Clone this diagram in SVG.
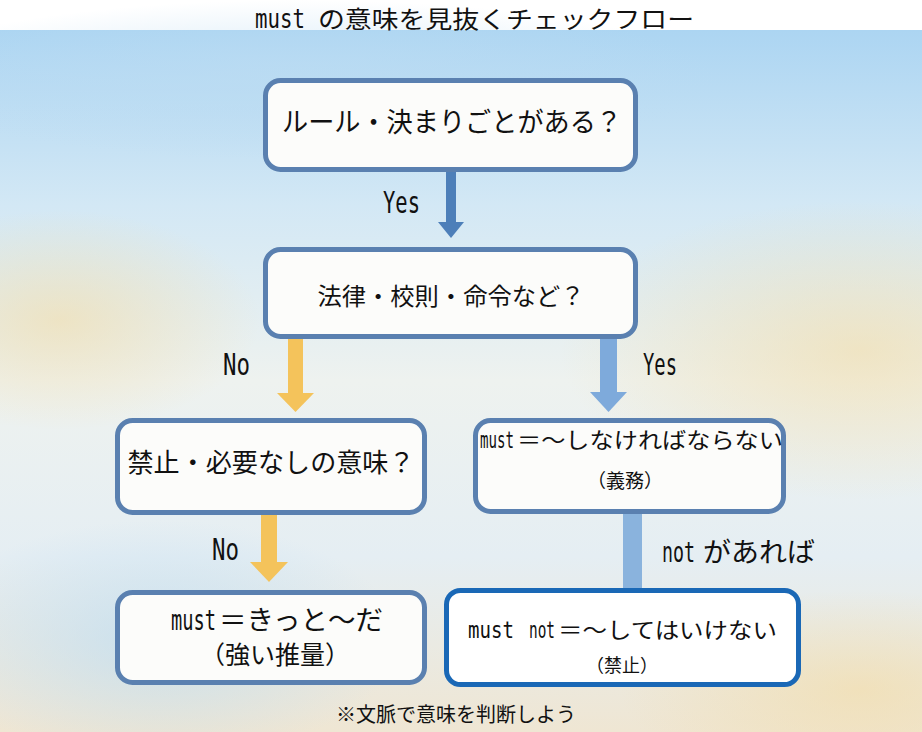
<svg xmlns="http://www.w3.org/2000/svg" width="922" height="732" viewBox="0 0 922 732">
<style>
.jp{font-family:"Noto Sans CJK JP","Noto Sans",sans-serif;fill:#111;}
.lat{font-family:"DejaVu Sans Mono","Liberation Mono",monospace;fill:#111;}
.box{fill:#fcfcfa;stroke:#5a80b0;stroke-width:5;}
.box6{fill:#ffffff;stroke:#1a68b6;stroke-width:5;}
</style>
<defs>
<linearGradient id="bg" x1="0" y1="0" x2="0" y2="1">
<stop offset="0" stop-color="#acd5f2"/>
<stop offset="0.25" stop-color="#d3e8f5"/>
<stop offset="0.5" stop-color="#eef2ef"/>
<stop offset="0.75" stop-color="#e5eef3"/>
<stop offset="1" stop-color="#efe6d3"/>
</linearGradient>
<radialGradient id="y1" cx="0.5" cy="0.5" r="0.5">
<stop offset="0" stop-color="#f3dca6" stop-opacity="0.6"/>
<stop offset="1" stop-color="#f3dca6" stop-opacity="0"/>
</radialGradient>
<radialGradient id="b1" cx="0.5" cy="0.5" r="0.5">
<stop offset="0" stop-color="#bcdcf2" stop-opacity="0.7"/>
<stop offset="1" stop-color="#bcdcf2" stop-opacity="0"/>
</radialGradient>
</defs>
<rect x="0" y="0" width="922" height="732" fill="#ffffff"/>
<rect x="0" y="30" width="922" height="702" fill="url(#bg)"/>
<ellipse cx="860" cy="350" rx="300" ry="150" fill="url(#y1)"/>
<ellipse cx="60" cy="320" rx="200" ry="110" fill="url(#y1)"/>
<ellipse cx="860" cy="690" rx="240" ry="100" fill="url(#y1)"/>
<ellipse cx="160" cy="640" rx="240" ry="120" fill="url(#b1)"/>
<ellipse cx="300" cy="80" rx="420" ry="80" fill="url(#b1)"/>

<g id="title">
<text class="lat" x="255" y="28" font-size="27" textLength="50" lengthAdjust="spacingAndGlyphs">must</text>
<text class="jp" x="318" y="28" font-size="24" textLength="376" lengthAdjust="spacingAndGlyphs">の意味を見抜くチェックフロー</text>
</g>

<g id="connectors">
<rect x="446" y="170" width="10" height="54" fill="#4d7fb9"/>
<polygon points="438,222 464,222 451,238" fill="#4d7fb9"/>
<text class="lat" x="383" y="213" font-size="30" textLength="37" lengthAdjust="spacingAndGlyphs">Yes</text>

<rect x="288" y="338" width="15" height="57" fill="#f4c35b"/>
<polygon points="277,393 314,393 295.5,412" fill="#f4c35b"/>
<text class="lat" x="223" y="375" font-size="30" textLength="27" lengthAdjust="spacingAndGlyphs">No</text>

<rect x="600" y="338" width="17" height="56" fill="#7eaadb"/>
<polygon points="590,392 627,392 608.5,412" fill="#7eaadb"/>
<text class="lat" x="643" y="375" font-size="30" textLength="34" lengthAdjust="spacingAndGlyphs">Yes</text>

<rect x="261" y="514" width="16" height="50" fill="#f4c35b"/>
<polygon points="250,562 288,562 269,582" fill="#f4c35b"/>
<text class="lat" x="212" y="560" font-size="30" textLength="27" lengthAdjust="spacingAndGlyphs">No</text>

<rect x="623" y="513" width="19" height="77" fill="#8ab3dd"/>
<text class="lat" x="662" y="562" font-size="29" textLength="33" lengthAdjust="spacingAndGlyphs">not</text>
<text class="jp" x="703" y="562" font-size="27" textLength="112" lengthAdjust="spacingAndGlyphs">があれば</text>
</g>

<g id="n1">
<rect class="box" x="265.5" y="80.5" width="370" height="89" rx="15"/>
<text class="jp" x="452" y="132" font-size="27" text-anchor="middle" textLength="340" lengthAdjust="spacingAndGlyphs">ルール・決まりごとがある？</text>
</g>
<g id="n2">
<rect class="box" x="265.5" y="249.5" width="370" height="87" rx="15"/>
<text class="jp" x="451" y="305" font-size="24" text-anchor="middle" textLength="267" lengthAdjust="spacingAndGlyphs">法律・校則・命令など？</text>
</g>
<g id="n3">
<rect class="box" x="117.5" y="420.5" width="307" height="92" rx="15"/>
<text class="jp" x="271" y="472" font-size="26" text-anchor="middle" textLength="287" lengthAdjust="spacingAndGlyphs">禁止・必要なしの意味？</text>
</g>
<g id="n4">
<rect class="box" x="475.5" y="420.5" width="308" height="91" rx="15"/>
<text class="jp" x="480" y="448" font-size="22"><tspan class="lat" font-size="23" textLength="34" lengthAdjust="spacingAndGlyphs">must</tspan><tspan dx="3" textLength="266" lengthAdjust="spacingAndGlyphs">＝～しなければならない</tspan></text>
<text class="jp" x="625" y="488" font-size="19" text-anchor="middle">（義務）</text>
</g>
<g id="n5">
<rect class="box" x="117.5" y="592.5" width="307" height="90" rx="15"/>
<text class="jp" x="171" y="630" font-size="27"><tspan class="lat" font-size="28" textLength="45" lengthAdjust="spacingAndGlyphs">must</tspan><tspan dx="3" textLength="164" lengthAdjust="spacingAndGlyphs">＝きっと～だ</tspan></text>
<text class="jp" x="275" y="664" font-size="25" text-anchor="middle" textLength="150" lengthAdjust="spacingAndGlyphs">（強い推量）</text>
</g>
<g id="n6">
<rect class="box6" x="446.5" y="590.5" width="352" height="94" rx="14"/>
<text class="jp" x="468" y="638" font-size="22"><tspan class="lat" font-size="23" textLength="46" lengthAdjust="spacingAndGlyphs">must</tspan><tspan class="lat" font-size="23" dx="15" textLength="26" lengthAdjust="spacingAndGlyphs">not</tspan><tspan dx="3" textLength="219" lengthAdjust="spacingAndGlyphs">＝～してはいけない</tspan></text>
<text class="jp" x="622" y="672" font-size="18" text-anchor="middle">（禁止）</text>
</g>

<g id="footer">
<text class="jp" x="456" y="722" font-size="20" text-anchor="middle" textLength="240" lengthAdjust="spacingAndGlyphs">※文脈で意味を判断しよう</text>
</g>
</svg>
